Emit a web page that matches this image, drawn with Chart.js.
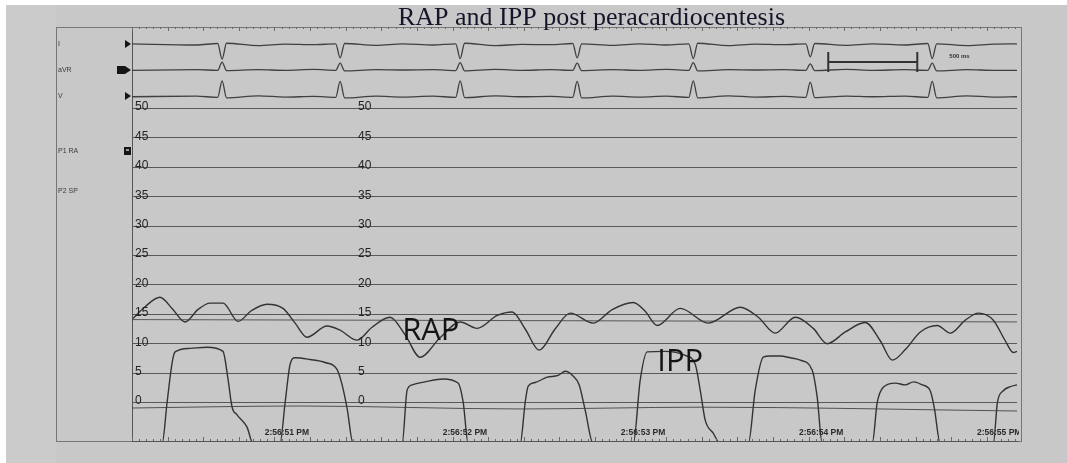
<!DOCTYPE html>
<html>
<head>
<meta charset="utf-8">
<script src="https://cdn.jsdelivr.net/npm/chart.js@4.4.1/dist/chart.umd.min.js"></script>
<style>
  html, body { margin: 0; padding: 0; background: #fff; }
  #wrap { width: 1067px; height: 463px; }
</style>
</head>
<body>
<div id="wrap"><canvas id="trace" width="1067" height="463"></canvas></div>
<script>
// === 축 / 라벨 ===
const yTicks = [0, 5, 10, 15, 20, 25, 30, 35, 40, 45, 50];
const timeTicks = [51, 52, 53, 54, 55];
const timeLabels = ['2:56:51 PM', '2:56:52 PM', '2:56:53 PM', '2:56:54 PM', '2:56:55 PM'];
const channelNames = ['I', 'aVR', 'V', 'P1 RA', 'P2 SP'];
const notes = [
  { text: 'RAP', t: 51.647, v: 10.6 },
  { text: 'IPP', t: 53.08, v: 5.4 },
];
const scaleBar = { t0: 54.04, t1: 54.54, v: 57.9, label: '500 ms' };

// === ECG (I, aVR, V) : 시간(초) ===
const ecgT = [50.13,
  50.49, 50.611, 50.636, 50.661, 50.84, 50.99,
  51.15, 51.274, 51.299, 51.324, 51.50, 51.65,
  51.82, 51.948, 51.973, 51.998, 52.17, 52.32,
  52.48, 52.605, 52.630, 52.655, 52.83, 52.98,
  53.13, 53.257, 53.282, 53.307, 53.48, 53.63,
  53.79, 53.914, 53.939, 53.964, 54.14, 54.29,
  54.47, 54.599, 54.624, 54.649, 54.82, 54.97,
  55.10];
const ecgI = [61.0,
  60.8, 61.05, 58.4, 61.1, 60.7, 60.95,
  60.85, 61.0, 58.6, 61.05, 60.75, 61.0,
  60.8, 61.0, 58.5, 61.1, 60.7, 60.9,
  60.85, 61.05, 58.6, 61.0, 60.75, 61.0,
  60.8, 61.0, 58.5, 61.1, 60.7, 60.95,
  60.85, 61.0, 58.8, 61.05, 60.75, 61.0,
  60.8, 61.05, 58.5, 61.0, 60.7, 60.95,
  61.0];
const ecgAVR = [56.5,
  56.6, 56.5, 57.9, 56.45, 56.6, 56.5,
  56.65, 56.5, 57.7, 56.4, 56.6, 56.55,
  56.6, 56.45, 57.8, 56.4, 56.65, 56.5,
  56.6, 56.5, 57.7, 56.45, 56.6, 56.5,
  56.65, 56.5, 57.8, 56.4, 56.6, 56.55,
  56.6, 56.5, 57.6, 56.45, 56.65, 56.5,
  56.6, 56.5, 57.7, 56.4, 56.6, 56.5,
  56.5];
const ecgV = [52.0,
  52.1, 51.9, 54.7, 51.8, 52.15, 51.95,
  52.05, 51.9, 54.6, 51.8, 52.1, 51.95,
  52.1, 51.9, 54.7, 51.85, 52.15, 52.0,
  52.05, 51.9, 54.6, 51.8, 52.1, 51.95,
  52.1, 51.9, 54.7, 51.8, 52.15, 51.95,
  52.05, 51.9, 54.5, 51.85, 52.1, 52.0,
  52.1, 51.9, 54.6, 51.8, 52.15, 51.95,
  52.0];

// === RAP (P1 RA, mmHg) ===
const rapT = [50.136, 50.20, 50.287, 50.355, 50.428, 50.50, 50.568, 50.641, 50.726, 50.80,
  50.888, 50.978, 51.046, 51.113, 51.225, 51.298, 51.394, 51.478, 51.579, 51.664,
  51.748, 51.860, 51.973, 52.068, 52.181, 52.265, 52.338, 52.417, 52.506, 52.591,
  52.720, 52.827, 52.945, 53.012, 53.079, 53.209, 53.366, 53.546, 53.647, 53.742,
  53.855, 53.956, 54.034, 54.136, 54.248, 54.332, 54.400, 54.473, 54.557, 54.652,
  54.725, 54.810, 54.883, 54.967, 55.034, 55.079, 55.10];
const rapP = [14.3, 16.2, 17.9, 16.0, 13.7, 15.8, 16.9, 16.9, 13.8, 15.6,
  16.7, 16.0, 13.5, 11.1, 13.0, 12.3, 10.6, 12.8, 14.5, 11.5,
  7.7, 11.0, 13.7, 12.6, 14.8, 15.4, 12.5, 8.9, 12.5, 15.2,
  13.5, 15.8, 17.0, 15.5, 13.1, 16.0, 13.5, 16.2, 14.5, 11.8,
  14.5, 12.6, 10.0, 12.0, 13.6, 10.5, 7.2, 9.0, 12.0, 13.1,
  11.8, 14.0, 15.2, 14.0, 10.5, 8.5, 8.7];

// === IPP (P2 SP, mmHg) - 화면 아래로 잘리는 부분은 -7 ===
const ippT = [50.13, 50.299, 50.327, 50.355, 50.372, 50.456, 50.551, 50.641, 50.669, 50.692, 50.720, 50.776, 50.810,
  50.961, 50.990, 51.018, 51.046, 51.130, 51.214, 51.282, 51.310, 51.338, 51.372,
  51.647, 51.675, 51.703, 51.776, 51.877, 51.961, 51.990, 52.018,
  52.310, 52.338, 52.355, 52.394, 52.461, 52.523, 52.563, 52.607, 52.641, 52.675, 52.720,
  52.945, 52.984, 53.023, 53.124, 53.237, 53.293, 53.321, 53.349, 53.394, 53.433,
  53.591, 53.630, 53.675, 53.714, 53.770, 53.827, 53.883, 53.950, 53.978, 54.006,
  54.287, 54.315, 54.349, 54.417, 54.473, 54.518, 54.568, 54.613, 54.636, 54.669,
  54.967, 54.990, 55.023, 55.063, 55.10];
const ippP = [-7, -7, 0, 6.7, 8.6, 9.2, 9.4, 8.7, 4.0, -0.8, -2.1, -4.2, -7,
  -7, 0, 6.5, 7.6, 7.3, 6.8, 5.6, 3.0, -1.0, -7,
  -7, 2.1, 3.0, 3.5, 4.0, 3.3, 0, -7,
  -7, 0, 2.8, 3.4, 4.3, 4.6, 5.3, 4.5, 3.0, -1.3, -7,
  -7, 3.8, 8.6, 8.7, 8.0, 6.5, 2.1, -3.0, -5.2, -7,
  -7, 2.1, 7.7, 7.9, 7.9, 7.6, 7.2, 5.5, 0.9, -7,
  -7, 0, 2.6, 3.3, 3.0, 3.5, 3.0, 2.0, -1.0, -7,
  -7, 0, 2.0, 2.7, 3.0];

// 보조 기준선 (P2 채널 0선, 14 부근 선)
const baseT = [50.13, 51.074, 52.31, 53.321, 55.10];
const baseP = [-0.94, -0.6, -1.1, -0.8, -1.45];
const ch2T = [50.13, 55.10];
const ch2P = [14.1, 13.7];

const pts = (t, v) => t.map((x, i) => ({ x, y: v[i] }));
const INK = '#333333';

function line(data, color, width) {
  return {
    data, borderColor: color, borderWidth: width, pointRadius: 0,
    tension: 0.3, cubicInterpolationMode: 'monotone', fill: false,
  };
}

/**
 * 배경, 프레임, 채널 라벨, 눈금 글자 등 모니터 화면 장식
 */
const decor = {
  id: 'decor',
  beforeDraw(chart) {
    const { ctx, width, height } = chart;
    ctx.save();
    ctx.fillStyle = '#ffffff';
    ctx.fillRect(0, 0, width, height);
    ctx.fillStyle = '#c8c8c8';
    ctx.fillRect(6, 5, width - 6, height - 5);
    ctx.fillStyle = '#cbcbcb';
    ctx.fillRect(6, 5, 50, height - 5);
    // 바깥 프레임
    ctx.strokeStyle = '#767676';
    ctx.lineWidth = 1;
    ctx.strokeRect(56.5, 27.5, 965, 414);
    ctx.restore();
  },
  afterDatasetsDraw(chart) {
    const { ctx, chartArea: a } = chart;
    const xs = chart.scales.x, ys = chart.scales.y;
    ctx.save();

    // 상단/하단 눈금자
    ctx.strokeStyle = '#6a6a6a';
    ctx.lineWidth = 1;
    let k = 0;
    for (let t = xs.min; t <= xs.max; t += 0.04, k++) {
      const px = Math.round(xs.getPixelForValue(t)) + 0.5;
      const len = k % 5 === 0 ? 4 : 2;
      ctx.beginPath();
      ctx.moveTo(px, a.top); ctx.lineTo(px, a.top + len);
      ctx.moveTo(px, a.bottom); ctx.lineTo(px, a.bottom - len);
      ctx.stroke();
    }

    // y 눈금 숫자 (두 줄)
    ctx.fillStyle = '#222';
    ctx.font = '12px "Liberation Sans"';
    ctx.textAlign = 'left';
    ctx.textBaseline = 'alphabetic';
    yTicks.forEach(v => {
      const py = ys.getPixelForValue(v);
      [135, 358].forEach(px => ctx.fillText(String(v), px, py + 2));
    });

    // 시간 라벨
    ctx.save();
    ctx.beginPath();
    ctx.rect(a.left, a.top, 1019 - a.left, a.bottom - a.top);
    ctx.clip();
    ctx.font = 'bold 8.5px "Liberation Sans"';
    ctx.textAlign = 'center';
    ctx.fillStyle = '#2a2a2a';
    timeTicks.forEach((t, i) => ctx.fillText(timeLabels[i], xs.getPixelForValue(t), a.bottom - 6));
    ctx.restore();

    // 500 ms 스케일 바
    const bx0 = xs.getPixelForValue(scaleBar.t0), bx1 = xs.getPixelForValue(scaleBar.t1);
    const by = ys.getPixelForValue(scaleBar.v);
    ctx.strokeStyle = '#333';
    ctx.lineWidth = 2;
    ctx.beginPath();
    ctx.moveTo(bx0, by); ctx.lineTo(bx1, by);
    ctx.moveTo(bx0, by - 10); ctx.lineTo(bx0, by + 10);
    ctx.moveTo(bx1, by - 10); ctx.lineTo(bx1, by + 10);
    ctx.stroke();
    ctx.font = 'bold 6px "Liberation Sans"';
    ctx.textAlign = 'left';
    ctx.fillStyle = '#333';
    ctx.fillText(scaleBar.label, xs.getPixelForValue(54.72), ys.getPixelForValue(58.6));

    // RAP / IPP 주석
    ctx.font = '31px "Open Sans"';
    ctx.fillStyle = '#141414';
    notes.forEach(n => ctx.fillText(n.text, xs.getPixelForValue(n.t), ys.getPixelForValue(n.v)));

    // 왼쪽 채널 이름 + 마커
    ctx.font = '7px "Liberation Sans"';
    ctx.fillStyle = '#3a3a3a';
    const chY = [46, 72, 98, 153, 193];
    channelNames.forEach((name, i) => ctx.fillText(name, 58, chY[i]));
    ctx.fillStyle = '#151515';
    [44, 70, 96].forEach(y => {
      ctx.beginPath();
      ctx.moveTo(125, y - 4); ctx.lineTo(131, y); ctx.lineTo(125, y + 4);
      ctx.closePath(); ctx.fill();
    });
    ctx.fillRect(117, 66, 8, 8);
    ctx.fillRect(124, 147, 7, 8);
    ctx.fillStyle = '#9a9a9a';
    ctx.fillRect(126, 149, 3, 2);

    // 제목
    ctx.font = '26px "Liberation Serif"';
    ctx.fillStyle = '#15152a';
    ctx.fillText('RAP and IPP post peracardiocentesis', 398, 25);
    ctx.restore();
  },
};

new Chart(document.getElementById('trace'), {
  type: 'line',
  data: {
    datasets: [
      line(pts(ch2T, ch2P), 'rgba(60,60,60,0.8)', 1),
      line(pts(baseT, baseP), 'rgba(60,60,60,0.85)', 1),
      line(pts(ecgT, ecgI), '#404040', 1.3),
      line(pts(ecgT, ecgAVR), '#404040', 1.3),
      line(pts(ecgT, ecgV), '#404040', 1.3),
      line(pts(rapT, rapP), INK, 1.4),
      line(pts(ippT, ippP), INK, 1.4),
    ],
  },
  options: {
    responsive: false,
    animation: false,
    devicePixelRatio: 1,
    layout: { padding: { left: 132, top: 27, right: 50, bottom: 22 } },
    plugins: { legend: { display: false }, tooltip: { enabled: false }, title: { display: false } },
    scales: {
      x: {
        type: 'linear', min: 50.13, max: 55.10,
        grid: { display: false, drawTicks: false },
        ticks: { display: false },
        border: { display: true, color: '#555', width: 1 },
      },
      y: {
        type: 'linear', min: -6.55, max: 63.86,
        afterBuildTicks: (s) => { s.ticks = yTicks.map(v => ({ value: v })); },
        grid: { color: 'rgba(60,60,60,0.8)', lineWidth: 1, drawTicks: false },
        ticks: { display: false },
        border: { display: true, color: '#555', width: 1 },
      },
    },
  },
  plugins: [decor],
});
</script>
</body>
</html>
